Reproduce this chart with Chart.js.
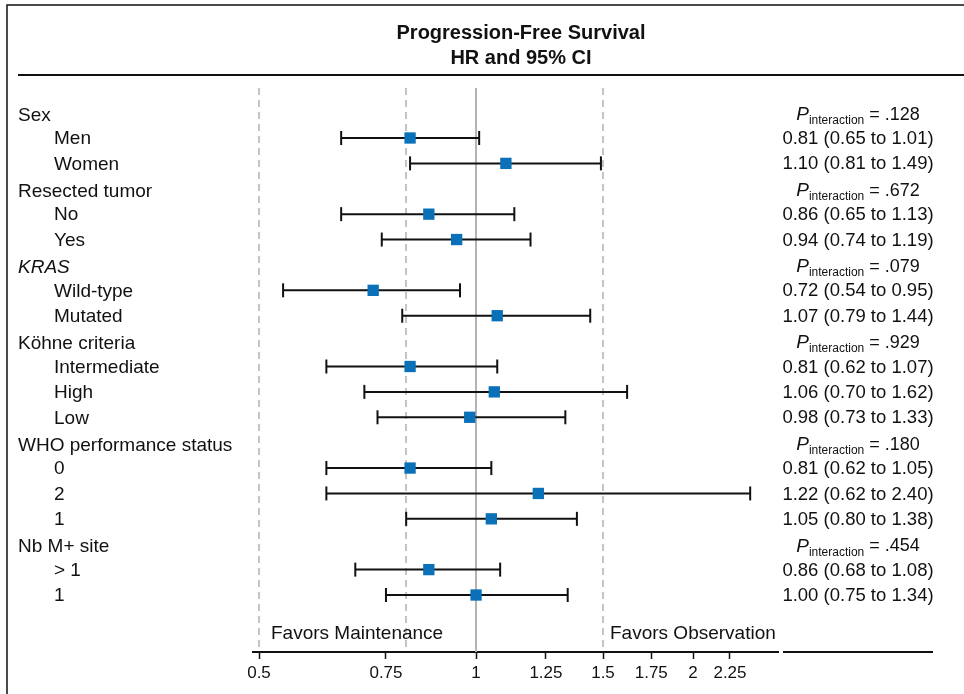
<!DOCTYPE html>
<html>
<head>
<meta charset="utf-8">
<script src="https://cdn.jsdelivr.net/npm/chart.js@4/dist/chart.umd.min.js"></script>
<style>
  html, body { margin: 0; padding: 0; background: #fff; }
  canvas { display: block; }
</style>
</head>
<body>
<canvas id="cvsForest" width="964" height="694"></canvas>
<script>
// data
const groupNames = ['Sex', 'Resected tumor', 'KRAS', 'Köhne criteria', 'WHO performance status', 'Nb M+ site'];
const pInteraction = ['.128', '.672', '.079', '.929', '.180', '.454'];
const subgroupNames = ['Men', 'Women', 'No', 'Yes', 'Wild-type', 'Mutated', 'Intermediate', 'High', 'Low', '0', '2', '1', '> 1', '1'];
const subgroupOf = [0, 0, 1, 1, 2, 2, 3, 3, 3, 4, 4, 4, 5, 5];
const hr = [0.81, 1.10, 0.86, 0.94, 0.72, 1.07, 0.81, 1.06, 0.98, 0.81, 1.22, 1.05, 0.86, 1.00];
const ciLow = [0.65, 0.81, 0.65, 0.74, 0.54, 0.79, 0.62, 0.70, 0.73, 0.62, 0.62, 0.80, 0.68, 0.75];
const ciHigh = [1.01, 1.49, 1.13, 1.19, 0.95, 1.44, 1.07, 1.62, 1.33, 1.05, 2.40, 1.38, 1.08, 1.34];
const xTicks = [0.5, 0.75, 1, 1.25, 1.5, 1.75, 2, 2.25];
const dashedRefs = [0.5, 0.8, 1.5];
const nullHR = 1;

const FONT = "'Liberation Sans', Arial, Helvetica, sans-serif";

// row index of every header / subgroup line
let headerRow = [];
let subRow = [];
let row = 0;
let lastGroup = -1;
subgroupOf.forEach((g, i) => {
  if (g !== lastGroup) {
    headerRow[g] = row++;
    lastGroup = g;
  }
  subRow[i] = row++;
});
const favorsRow = row + 0.54;

const datasets = [];
// HR squares
datasets.push({
  type: 'scatter',
  data: hr.map((v, i) => ({ x: v, y: subRow[i] })),
  pointStyle: 'rect',
  pointRadius: 8,
  pointHoverRadius: 8,
  backgroundColor: '#0a70b8',
  borderColor: '#0a70b8',
  borderWidth: 0,
  order: 0
});
// CI whiskers with end caps
hr.forEach((v, i) => {
  datasets.push({
    type: 'line',
    data: [{ x: ciLow[i], y: subRow[i] }, { x: ciHigh[i], y: subRow[i] }],
    borderColor: '#111',
    borderWidth: 2,
    pointStyle: 'line',
    rotation: 90,
    pointRadius: 7,
    pointHoverRadius: 7,
    pointBorderWidth: 2,
    pointBorderColor: '#111',
    order: 1
  });
});

const forestText = {
  id: 'forestText',
  beforeDatasetsDraw(chart) {
    const { ctx, chartArea, scales: { x } } = chart;
    ctx.save();
    ctx.lineWidth = 2;
    ctx.strokeStyle = '#c4c4c4';
    ctx.setLineDash([7, 5]);
    dashedRefs.forEach(v => {
      const px = Math.round(x.getPixelForValue(v));
      ctx.beginPath();
      ctx.moveTo(px, chartArea.top + 3);
      ctx.lineTo(px, chartArea.bottom);
      ctx.stroke();
    });
    ctx.setLineDash([]);
    ctx.strokeStyle = '#b4b4b4';
    const p1 = Math.round(x.getPixelForValue(nullHR));
    ctx.beginPath();
    ctx.moveTo(p1, chartArea.top + 3);
    ctx.lineTo(p1, chartArea.bottom);
    ctx.stroke();
    ctx.restore();
  },
  afterDraw(chart) {
    const { ctx, chartArea, scales: { x, y } } = chart;
    ctx.save();
    // frame + rules
    ctx.strokeStyle = '#111';
    ctx.lineWidth = 1.5;
    ctx.beginPath();
    ctx.moveTo(7, 694);
    ctx.lineTo(7, 5);
    ctx.lineTo(964, 5);
    ctx.stroke();
    ctx.lineWidth = 2;
    ctx.beginPath();
    ctx.moveTo(18, 75);
    ctx.lineTo(964, 75);
    ctx.moveTo(chartArea.right + 5, chartArea.bottom);
    ctx.lineTo(933, chartArea.bottom);
    ctx.stroke();

    // title
    ctx.fillStyle = '#111';
    ctx.textAlign = 'center';
    ctx.textBaseline = 'middle';
    ctx.font = `bold 20px ${FONT}`;
    ctx.fillText('Progression-Free Survival', 521, 33);
    ctx.fillText('HR and 95% CI', 521, 58);

    // left labels
    ctx.textAlign = 'left';
    groupNames.forEach((name, g) => {
      ctx.font = (name === 'KRAS' ? 'italic ' : '') + `19px ${FONT}`;
      ctx.fillText(name, 18, y.getPixelForValue(headerRow[g]) + 3);
    });
    ctx.font = `19px ${FONT}`;
    subgroupNames.forEach((name, i) => {
      ctx.fillText(name, 54, y.getPixelForValue(subRow[i]) + 1);
    });

    // right column
    const colX = 858;
    ctx.textAlign = 'center';
    ctx.font = `18.5px ${FONT}`;
    hr.forEach((v, i) => {
      const txt = `${v.toFixed(2)} (${ciLow[i].toFixed(2)} to ${ciHigh[i].toFixed(2)})`;
      ctx.fillText(txt, colX, y.getPixelForValue(subRow[i]) + 1);
    });
    ctx.textAlign = 'left';
    pInteraction.forEach((p, g) => {
      const py = y.getPixelForValue(headerRow[g]) + 2;
      const rest = ` = ${p}`;
      ctx.font = `italic 19px ${FONT}`;
      const wP = ctx.measureText('P').width;
      ctx.font = `12px ${FONT}`;
      const wSub = ctx.measureText('interaction').width;
      ctx.font = `18px ${FONT}`;
      const wRest = ctx.measureText(rest).width;
      let sx = colX - (wP + wSub + wRest) / 2;
      ctx.font = `italic 19px ${FONT}`;
      ctx.fillText('P', sx, py);
      sx += wP;
      ctx.font = `12px ${FONT}`;
      ctx.fillText('interaction', sx, py + 6);
      sx += wSub;
      ctx.font = `18px ${FONT}`;
      ctx.fillText(rest, sx, py);
    });

    // favours labels
    const fy = y.getPixelForValue(favorsRow);
    ctx.font = `19px ${FONT}`;
    ctx.fillText('Favors Maintenance', x.getPixelForValue(0.5) + 12, fy);
    ctx.fillText('Favors Observation', x.getPixelForValue(1.5) + 7, fy);
    ctx.restore();
  }
};

new Chart(document.getElementById('cvsForest'), {
  data: { datasets: datasets },
  options: {
    responsive: false,
    animation: false,
    layout: { padding: { left: 253, right: 186, top: 85, bottom: 0 } },
    plugins: { legend: { display: false }, tooltip: { enabled: false } },
    scales: {
      x: {
        type: 'logarithmic',
        position: 'bottom',
        min: 0.4905,
        max: 2.623,
        afterBuildTicks: s => { s.ticks = xTicks.map(v => ({ value: v })); },
        afterFit: s => { s.height = 42; },
        ticks: {
          autoSkip: false,
          maxRotation: 0,
          padding: 4,
          color: '#111',
          font: { family: FONT, size: 17 },
          callback: v => String(v)
        },
        grid: { drawOnChartArea: false, drawTicks: true, tickLength: 7, tickColor: '#111', tickWidth: 1.5 },
        border: { display: true, color: '#111', width: 2 }
      },
      y: {
        type: 'linear',
        display: false,
        reverse: true,
        min: -1.087,
        max: 21.245
      }
    }
  },
  plugins: [forestText]
});
</script>
</body>
</html>
